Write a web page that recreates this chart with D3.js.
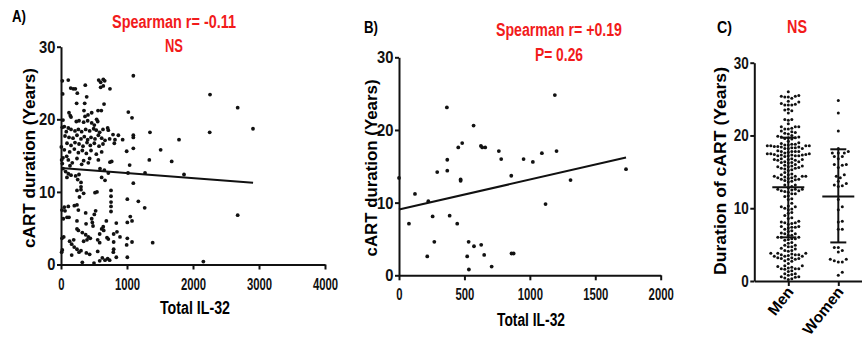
<!DOCTYPE html>
<html><head><meta charset="utf-8">
<script src="https://cdn.jsdelivr.net/npm/d3@7"></script>
<style>body{margin:0;background:#fff}svg{display:block}</style>
</head><body>
<svg id="chart" width="862" height="339"></svg>
<script>
// ---------- DATA ----------
// Panel A: [Total IL-32, cART duration (years)]
const panelA = [
 [1096,26.0],[2258,23.4],[2677,21.6],[2909,18.7],[2253,18.2],[1020,21.0],[1076,20.2],[934,17.2],[1096,17.8],[1096,17.5],
 [1348,18.2],[1096,16.0],[995,15.6],[1510,15.8],[1788,17.2],[1338,14.4],[1677,14.2],[1040,13.7],[1015,12.6],[1273,12.6],
 [1864,12.4],[1096,11.2],[1005,9.0],[1172,8.7],[1268,7.8],[1050,6.6],[1005,5.8],[1076,6.0],[894,3.8],[1005,3.6],
 [1076,3.1],[995,2.7],[1389,3.0],[1005,1.0],[2157,0.4],[2677,6.8],
 [20,25.3],[110,25.4],[25,23.5],[147,24.3],[186,24.2],[217,24.2],[247,23.6],[237,22.2],[368,24.7],[389,23.1],
 [571,25.4],[601,25.1],[641,25.5],[662,25.3],[601,24.4],[641,24.6],[742,24.2],[652,22.1],[561,21.2],[611,21.2],
 [359,22.2],[348,21.2],
 [465,20.9],[121,20.9],[141,20.5],[152,20.3],[30,19.9],[232,19.7],[273,19.8],[343,19.6],[404,19.8],[465,19.5],
 [556,19.7],[505,19.2],[409,20.6],[540,20.0],[364,20.4],
 [707,18.8],[111,18.8],[152,18.6],[212,18.4],[263,18.6],[313,18.3],[374,18.6],[434,18.4],[495,18.7],[535,18.5],
 [586,18.2],[636,18.6],[717,18.5],[788,17.9],[61,17.7],[121,17.5],[182,17.4],[242,17.8],[303,17.3],[353,17.6],
 [404,17.2],[455,17.5],[515,17.3],[566,17.8],[616,17.4],[667,17.1],[737,17.3],[818,17.2],[20,18.9],[50,19.0],
 [80,18.3],[869,17.8],
 [91,16.7],[152,16.4],[212,16.8],[273,16.6],[333,16.3],[394,16.8],[444,16.4],[505,16.7],[576,16.3],[636,16.6],
 [50,15.8],[131,15.5],[202,15.9],[263,15.4],[323,15.7],[384,15.3],[455,15.7],[535,15.2],[616,15.5],[30,14.7],
 [111,14.4],[242,14.6],[343,14.3],[434,14.6],[566,14.4],[5,16.2],[808,16.7],[742,14.1],[10,14.4],[86,14.9],
 [20,13.9],[171,14.0],[414,14.0],[768,14.2],[111,12.5],[152,12.3],[222,12.2],[273,12.4],[136,13.6],[313,13.8],
 [591,13.2],[657,13.0],[717,12.6],[616,12.0],[667,11.6],[253,11.7],[30,13.2],[70,12.8],
 [303,11.3],[303,10.7],[303,10.3],[242,10.2],[343,9.8],[515,9.9],[545,10.0],[758,10.2],[758,9.4],[758,8.6],
 [758,8.0],[758,7.3],[90,12.0],[280,9.3],
 [111,8.0],[202,8.1],[242,8.2],[61,7.4],[91,6.5],[121,6.5],[263,7.5],[374,7.1],[525,7.4],[505,6.9],
 [242,6.0],[465,6.3],[475,5.8],[485,5.3],[687,6.0],[838,5.7],[15,7.5],[35,6.3],[50,7.9],[380,5.6],[640,5.2],
 [242,4.9],[263,4.7],[323,4.4],[374,4.1],[414,3.8],[444,3.6],[616,4.9],[647,4.7],[586,4.2],[697,3.7],
 [717,3.5],[798,4.2],[848,4.5],[41,3.8],[131,3.2],[162,2.8],[192,3.4],[343,3.2],[394,3.4],[556,3.4],
 [586,3.0],[798,3.1],[15,3.6],
 [20,2.0],[242,2.1],[273,1.7],[303,1.9],[384,1.6],[434,1.4],[556,1.8],[798,2.1],[162,1.3],[626,0.9],
 [667,0.6],[707,0.8],[737,0.6],[838,1.0],[586,0.5],[323,0.3],[10,1.7],[500,0.2],[793,1.7],[200,2.4]
];
// Panel B: [Total IL-32, cART duration (years)]
const panelB = [
 [0,13.4],[122,11.2],[76,7.1],[224,10.2],[216,2.6],[257,8.1],[270,4.6],[292,14.2],[366,23.1],[369,15.9],
 [369,14.4],[387,8.2],[445,7.1],[453,17.6],[471,13.2],[471,13.0],[483,18.2],[521,2.6],[532,4.6],[534,0.8],
 [570,20.6],[573,4.0],[626,17.8],[636,17.6],[659,17.6],[628,4.2],[651,2.8],[708,1.2],[763,17.1],[781,16.0],
 [858,13.7],[860,3.0],[876,3.0],[952,16.0],[1023,15.6],[1092,16.8],[1120,9.8],[1191,24.8],[1204,17.1],[1311,13.1],
 [1735,14.6]
];
// Fitted lines (endpoints)
const fitA = [[0,13.3],[2910,11.25]];
const fitB = [[0,9.05],[1735,16.2]];
// Panel C
const groups = ["Men","Women"];
const menYears = panelA.map(d => d[1]);
const womenYears = panelB.map(d => d[1]);
const groupMean = [12.9, 11.6];
const groupLow = [6.0, 5.3];
const groupHigh = [19.7, 18.1];
// Ticks
const aXTicks = [0,1000,2000,3000,4000];
const bXTicks = [0,500,1000,1500,2000];
const yTicks = [0,10,20,30];
const titles = {A:["Spearman r= -0.11","NS"], B:["Spearman r= +0.19","P= 0.26"], C:["NS"]};

// ---------- DRAW ----------
const FONT = "'Liberation Sans', Arial, sans-serif";
const RED = "#f21b1b";
const svg = d3.select("#chart");

function txt(s, x, y, o) {
  o = o || {};
  const t = svg.append("text")
    .attr("transform", `translate(${x},${y}) rotate(${o.rotate||0})`)
    .attr("text-anchor", o.anchor || "middle")
    .attr("font-family", FONT).attr("font-weight", "bold")
    .attr("font-size", o.size || 16).attr("fill", o.fill || "#000")
    .text(s);
  if (o.len) t.attr("textLength", o.len).attr("lengthAdjust", "spacingAndGlyphs");
  return t;
}

function styleAxis(g, digitW) {
  g.select(".domain").attr("stroke", "#111").attr("stroke-width", 2);
  g.selectAll(".tick line").attr("stroke", "#111").attr("stroke-width", 2);
  g.selectAll(".tick text").attr("font-family", FONT).attr("font-weight", "bold")
    .attr("font-size", 17).attr("fill", "#111")
    .each(function(){ const s = d3.select(this).text(); d3.select(this).attr("textLength", s.length*digitW).attr("lengthAdjust","spacingAndGlyphs"); });
}

function scatterPanel(data, fit, x, y, xTicks) {
  const gx = svg.append("g").attr("transform", `translate(0,${y(0)})`)
    .call(d3.axisBottom(x).tickValues(xTicks).tickFormat(d3.format("d")).tickSize(5).tickSizeOuter(0).tickPadding(8));
  styleAxis(gx, 6.3);
  const gy = svg.append("g").attr("transform", `translate(${x(0)},0)`)
    .call(d3.axisLeft(y).tickValues(yTicks).tickSize(4).tickSizeOuter(0).tickPadding(1.5));
  styleAxis(gy, 8.2);
  svg.append("g").selectAll("circle").data(data).join("circle")
    .attr("cx", d => x(d[0])).attr("cy", d => y(d[1])).attr("r", 1.9).attr("fill", "#111");
  svg.append("path").datum(fit)
    .attr("d", d3.line().x(d => x(d[0])).y(d => y(d[1])))
    .attr("stroke", "#111").attr("stroke-width", 2).attr("fill", "none");
}

// Panel A
const xA = d3.scaleLinear().domain([0,4000]).range([61,325]);
const yA = d3.scaleLinear().domain([0,30]).range([264.5,46.7]);
scatterPanel(panelA, fitA, xA, yA, aXTicks);
txt("A)", 12, 22, {anchor:"start", len:14, size:17});
txt(titles.A[0], 174, 28, {fill:RED, len:124, size:18});
txt(titles.A[1], 174, 52, {fill:RED, len:18, size:18});
txt("cART duration (Years)", 35, 158, {rotate:-90, len:180, size:16.5});
txt("Total IL-32", 195, 314, {len:70, size:18});

// Panel B
const xB = d3.scaleLinear().domain([0,2000]).range([399,660.7]);
const yB = d3.scaleLinear().domain([0,30]).range([275.3,57.3]);
scatterPanel(panelB, fitB, xB, yB, bXTicks);
txt("B)", 364, 33, {anchor:"start", len:14, size:17});
txt(titles.B[0], 559, 36, {fill:RED, len:126, size:18});
txt(titles.B[1], 559, 61, {fill:RED, len:48, size:18});
txt("cART duration (Years)", 377, 168, {rotate:-90, len:177, size:16.5});
txt("Total IL-32", 531, 326, {len:68, size:18});

// Panel C
const yC = d3.scaleLinear().domain([0,30]).range([281,62.7]);
const xC = d3.scalePoint().domain(groups).range([754.3,872.3]).padding(0.68);
const gxC = svg.append("g").attr("transform", `translate(0,${yC(0)})`)
  .call(d3.axisBottom(xC).tickSize(5).tickSizeOuter(0).tickFormat(""));
styleAxis(gxC, 6);
const gyC = svg.append("g").attr("transform", `translate(${xC.range()[0]},0)`)
  .call(d3.axisLeft(yC).tickValues(yTicks).tickSize(4).tickSizeOuter(0).tickPadding(1.5));
styleAxis(gyC, 7.5);

function swarm(values, cx, d) {
  const pts = values.map(v => ({v, y: yC(v)})).sort((a,b) => b.y - a.y);
  const placed = [];
  for (const p of pts) {
    for (let k = 0; k < 60; k++) {
      const off = k === 0 ? 0 : (k % 2 ? 1 : -1) * Math.ceil(k/2) * d * 0.5;
      const px = cx + off;
      const ok = placed.every(q => (q.x-px)*(q.x-px) + (q.y-p.y)*(q.y-p.y) >= d*d);
      if (ok) { p.x = px; placed.push(p); break; }
    }
  }
  return placed;
}
const menPts = swarm(menYears, xC("Men"), 3.5);
const womenPts = swarm(womenYears, xC("Women"), 4.0);
svg.append("g").selectAll("circle").data(menPts.concat(womenPts)).join("circle")
  .attr("cx", d => d.x).attr("cy", d => d.y).attr("r", 1.5).attr("fill", "#111");

groups.forEach((g, i) => {
  const cx = xC(g);
  const lines = [
    [cx-16, yC(groupMean[i]), cx+16, yC(groupMean[i])],
    [cx-8, yC(groupHigh[i]), cx+8, yC(groupHigh[i])],
    [cx-8, yC(groupLow[i]), cx+8, yC(groupLow[i])],
    [cx, yC(groupLow[i]), cx, yC(groupHigh[i])]
  ];
  lines.forEach(l => svg.append("line").attr("x1", l[0]).attr("y1", l[1]).attr("x2", l[2]).attr("y2", l[3])
    .attr("stroke", "#111").attr("stroke-width", 2));
  txt(g, cx + 6, yC(0) + 11, {rotate:-52, anchor:"end", size:15.5});
});
txt("C)", 717, 33, {anchor:"start", len:15, size:17});
txt(titles.C[0], 797, 33, {fill:RED, len:20, size:18});
txt("Duration of cART (Years)", 726, 171, {rotate:-90, len:208, size:16.5});
</script>
</body></html>
